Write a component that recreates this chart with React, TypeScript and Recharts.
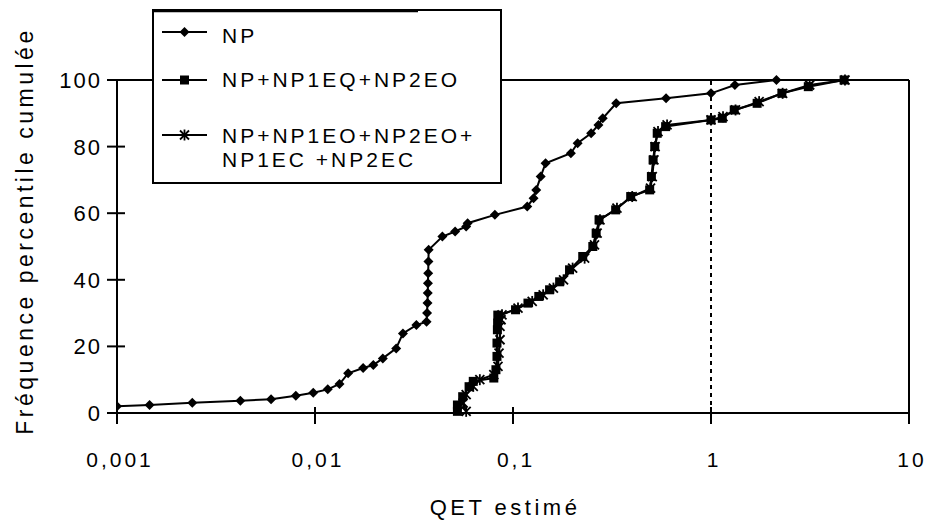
import React from "react";
import { LineChart, Line, XAxis, YAxis, ReferenceLine, Legend } from "recharts";

// axes
const xTicks = [0.001, 0.01, 0.1, 1, 10];
const xTickLabels = ["0,001", "0,01", "0,1", "1", "10"];
const yTicks = [0, 20, 40, 60, 80, 100];

const seriesNames = ["NP", "NP+NP1EQ+NP2EO", "NP+NP1EO+NP2EO+NP1EC+NP2EC"];

// NP (diamonds)
const npX = [
  0.001, 0.00146, 0.0024, 0.0042, 0.006, 0.008, 0.0098, 0.0116, 0.0133, 0.0147,
  0.0175, 0.0197, 0.022, 0.0257, 0.0278, 0.0325, 0.0366, 0.0368, 0.037, 0.0371,
  0.0372, 0.0373, 0.0374, 0.0375, 0.044, 0.051, 0.058, 0.059, 0.081, 0.118, 0.127,
  0.131, 0.138, 0.146, 0.196, 0.212, 0.248, 0.27, 0.284, 0.332, 0.593, 1.0, 1.32,
  2.14,
];
const npY = [
  2, 2.4, 3.1, 3.7, 4.1, 5.2, 6.1, 7.1, 8.7, 11.9,
  13.5, 14.4, 16.4, 19.4, 23.9, 26.4, 27.4, 30, 33, 36,
  39, 42, 45.5, 49, 53, 54.5, 56, 57, 59.5, 62, 64.5,
  67, 71, 75, 78, 81, 84, 86.5, 88.5, 93, 94.5, 96, 98.5,
  100,
];

// NP+NP1EQ+NP2EO (squares)
const eqX = [
  0.0524, 0.0524, 0.0557, 0.06, 0.063, 0.08, 0.082, 0.083, 0.083, 0.0834,
  0.0836, 0.0838, 0.103, 0.119, 0.135, 0.153, 0.172, 0.193, 0.225, 0.253,
  0.263, 0.272, 0.33, 0.393, 0.49, 0.5, 0.51, 0.52, 0.535, 0.59, 1.0, 1.14,
  1.31, 1.71, 2.28, 3.1, 4.7,
];
const eqY = [
  0.5, 2.4, 4.9, 7.9, 9.5, 10.5, 13, 17, 21, 25,
  27, 29.4, 31, 33, 35, 37, 39.4, 43, 47, 50,
  54, 58, 61, 65, 67, 71, 76, 80, 84, 86, 88, 88.5,
  91, 93, 96, 98, 100,
];

// NP+NP1EO+NP2EO+NP1EC+NP2EC (crosses)
const ecX = [
  0.058, 0.056, 0.058, 0.063, 0.068, 0.08, 0.084, 0.085, 0.086, 0.086,
  0.087, 0.088, 0.106, 0.125, 0.142, 0.16, 0.18, 0.2, 0.23, 0.258,
  0.266, 0.275, 0.335, 0.4, 0.495, 0.505, 0.515, 0.522, 0.54, 0.6, 1.0, 1.15,
  1.33, 1.75, 2.3, 3.15, 4.75,
];
const ecY = [
  0.5, 3, 5.5, 8, 10, 11.5, 14, 18, 22, 26,
  28, 29.5, 31.5, 33.5, 35.5, 37.5, 40, 43.5, 46.5, 50.5,
  54, 58, 61.5, 65, 67.5, 71, 76, 80, 84.5, 86.5, 88, 89,
  91, 93.5, 96, 98.5, 100,
];

const npData = npX.map((x, i) => ({ x, y: npY[i] }));
const eqData = eqX.map((x, i) => ({ x, y: eqY[i] }));
const ecData = ecX.map((x, i) => ({ x, y: ecY[i] }));

const FONT = "'Liberation Sans', Arial, sans-serif";
const PLOT_LEFT = 117;
const PLOT_BOTTOM = 413;

const diamond = (cx: number, cy: number, r = 5) =>
  `M${cx},${cy - r}L${cx + r},${cy}L${cx},${cy + r}L${cx - r},${cy}Z`;

const renderDiamond = (p: any) => {
  if (p.cx == null || p.cy == null) return <g key={p.index} />;
  return <path key={p.index} d={diamond(p.cx, p.cy)} fill="#000" />;
};
const renderSquare = (p: any) => {
  if (p.cx == null || p.cy == null) return <g key={p.index} />;
  return <rect key={p.index} x={p.cx - 4.5} y={p.cy - 4.5} width={9} height={9} fill="#000" />;
};
const renderCross = (p: any) => {
  if (p.cx == null || p.cy == null) return <g key={p.index} />;
  const { cx, cy } = p;
  return (
    <g key={p.index} stroke="#000" strokeWidth={1.8}>
      <line x1={cx - 4.5} y1={cy - 4.5} x2={cx + 4.5} y2={cy + 4.5} />
      <line x1={cx - 4.5} y1={cy + 4.5} x2={cx + 4.5} y2={cy - 4.5} />
      <line x1={cx} y1={cy - 5.5} x2={cx} y2={cy + 5.5} />
    </g>
  );
};

const XTick = (props: any) => {
  const { x, payload } = props;
  const i = xTicks.indexOf(payload.value);
  return (
    <g>
      <line x1={x} x2={x} y1={PLOT_BOTTOM - 6} y2={PLOT_BOTTOM + 11} stroke="#000" strokeWidth={2} />
      <text x={x + 3} y={467} textAnchor="middle" fontFamily={FONT} fontSize={21}
        style={{ letterSpacing: 3 }} fill="#000">
        {xTickLabels[i] ?? payload.value}
      </text>
    </g>
  );
};

const YTick = (props: any) => {
  const { y, payload } = props;
  return (
    <g>
      <line x1={PLOT_LEFT - 10} x2={payload.value === 100 ? PLOT_LEFT : PLOT_LEFT + 8} y1={y} y2={y}
        stroke="#000" strokeWidth={2} />
      <text x={PLOT_LEFT - 15} y={y + 8} textAnchor="end" fontFamily={FONT} fontSize={22}
        style={{ letterSpacing: 2 }} fill="#000">
        {payload.value}
      </text>
    </g>
  );
};

const YLabel = () => (
  <text x={33} y={231} transform="rotate(-90 33 231)" textAnchor="middle" fontFamily={FONT}
    fontSize={23} style={{ letterSpacing: 3.5 }} fill="#000">
    Fréquence percentile cumulée
  </text>
);

const XLabel = () => (
  <text x={505} y={515} textAnchor="middle" fontFamily={FONT} fontSize={22}
    style={{ letterSpacing: 3.5 }} fill="#000">
    QET estimé
  </text>
);

const LegendBox = () => {
  const t = { fontFamily: FONT, fontSize: 21, fill: "#000", style: { letterSpacing: 3 } } as any;
  return (
    <svg width={350} height={176} style={{ display: "block" }}>
      <rect x={1} y={1} width={348} height={173} fill="#fff" stroke="#000" strokeWidth={2} />
      <line x1={1} x2={266} y1={1.5} y2={1.5} stroke="#000" strokeWidth={3.5} />
      <line x1={10} x2={55} y1={23} y2={23} stroke="#000" strokeWidth={2} />
      <path d={diamond(32.5, 23)} fill="#000" />
      <text x={70} y={34} {...t}>{seriesNames[0]}</text>
      <line x1={10} x2={55} y1={71} y2={71} stroke="#000" strokeWidth={2} />
      <rect x={28} y={66.5} width={9} height={9} fill="#000" />
      <text x={70} y={78} {...t}>{seriesNames[1]}</text>
      <line x1={10} x2={55} y1={126} y2={126} stroke="#000" strokeWidth={2} />
      {renderCross({ cx: 32.5, cy: 126, index: "lg" })}
      <text x={70} y={134} {...t}>NP+NP1EO+NP2EO+</text>
      <text x={70} y={158} {...t}>NP1EC +NP2EC</text>
    </svg>
  );
};

export default function App() {
  return (
    <div style={{ position: "absolute", left: 0, top: 0, background: "#fff" }}>
      <LineChart width={928} height={521} margin={{ top: 80, right: 19, bottom: 78, left: 57 }}>
        <XAxis type="number" dataKey="x" scale="log" domain={[0.001, 10]} ticks={xTicks}
          allowDataOverflow interval={0} height={30} tickLine={false} tickSize={0} tickMargin={0}
          axisLine={{ stroke: "#000", strokeWidth: 2 }} tick={<XTick />} label={<XLabel />} />
        <YAxis type="number" dataKey="y" domain={[0, 100]} ticks={yTicks} interval={0} width={60}
          tickLine={false} tickSize={0} tickMargin={0}
          axisLine={{ stroke: "#000", strokeWidth: 2 }} tick={<YTick />} label={<YLabel />} />
        <ReferenceLine y={100} stroke="#000" strokeWidth={2} />
        <ReferenceLine x={10} stroke="#000" strokeWidth={2} />
        <ReferenceLine x={1} stroke="#000" strokeWidth={2} strokeDasharray="4 4" />
        <Line data={ecData} dataKey="y" name={seriesNames[2]} type="linear" stroke="#000" strokeWidth={2}
          dot={renderCross} activeDot={false} isAnimationActive={false} />
        <Line data={eqData} dataKey="y" name={seriesNames[1]} type="linear" stroke="#000" strokeWidth={2}
          dot={renderSquare} activeDot={false} isAnimationActive={false} />
        <Line data={npData} dataKey="y" name={seriesNames[0]} type="linear" stroke="#000" strokeWidth={2}
          dot={renderDiamond} activeDot={false} isAnimationActive={false} />
        <Legend layout="horizontal" verticalAlign="middle" align="center" content={<LegendBox />}
          wrapperStyle={{ left: 152, top: 9, width: 350, height: 176 }} />
      </LineChart>
    </div>
  );
}
